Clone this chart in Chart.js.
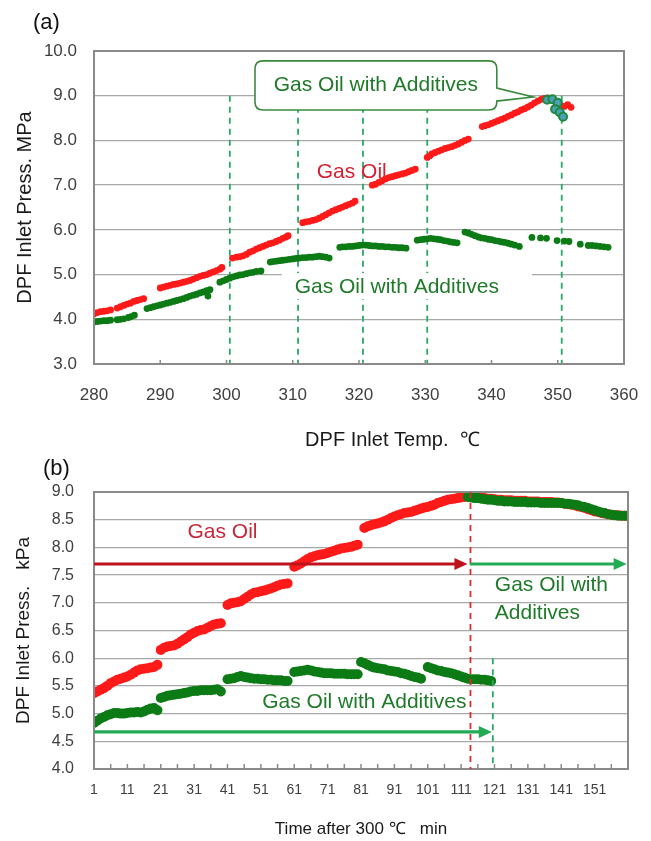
<!DOCTYPE html>
<html>
<head>
<meta charset="utf-8">
<script src="https://cdn.jsdelivr.net/npm/chart.js@4.4.1/dist/chart.umd.min.js"></script>
<style>
  body { margin: 0; background: #fff; }
  #page { position: relative; width: 651px; height: 841px; font-family: 'Liberation Sans', Arial, sans-serif; }
  canvas { position: absolute; left: 0; }
  .tag { position: absolute; font-size: 22px; line-height: 26px; color: #111; }
</style>
</head>
<body>
<div id="page">
  <canvas id="chartA" style="top:0" width="651" height="455"></canvas>
  <canvas id="chartB" style="top:455px" width="651" height="386"></canvas>
  <div class="tag" style="left:33px; top:9px;">(a)</div>
  <div class="tag" style="left:43px; top:455px;">(b)</div>
</div>
<script>
/* Two panels: (a) DPF inlet pressure vs inlet temperature,
   (b) DPF inlet pressure vs time after 300 C */

// ---- (a) data: [temperature degC, pressure MPa]
const aGasOil = [
  [280.0,4.12],[280.5,4.15],[281.0,4.17],[281.5,4.18],[282.0,4.19],[282.5,4.21],
  [283.5,4.25],[284.0,4.28],[284.5,4.31],[285.0,4.34],[285.5,4.36],
  [286.0,4.40],[286.5,4.42],[287.0,4.44],[287.5,4.46],
  [290.0,4.70],[290.5,4.72],[291.0,4.74],[291.5,4.76],[292.0,4.78],[292.5,4.79],[293.0,4.81],[293.5,4.83],
  [294.0,4.85],[294.5,4.87],[295.0,4.90],[295.5,4.93],[296.0,4.96],[296.5,4.98],[297.0,5.00],[297.5,5.03],
  [298.0,5.06],[298.5,5.09],[299.0,5.12],[299.3,5.16],
  [300.9,5.37],[301.5,5.39],[302.0,5.40],[302.5,5.42],[303.0,5.45],[303.5,5.50],[304.0,5.53],[304.5,5.57],
  [305.0,5.60],[305.5,5.63],[306.0,5.66],[306.5,5.69],[307.0,5.71],[307.5,5.74],[308.0,5.77],[308.5,5.81],
  [309.0,5.84],[309.3,5.87],
  [311.5,6.16],[312.0,6.18],[312.5,6.19],[313.0,6.21],[313.5,6.23],[314.0,6.26],[314.5,6.30],[315.0,6.34],
  [315.5,6.38],[316.0,6.42],[316.5,6.45],[317.0,6.48],[317.5,6.51],[318.0,6.54],[318.5,6.57],[319.0,6.60],[319.4,6.64],
  [322.0,7.00],[322.5,7.02],[323.0,7.06],[323.5,7.10],[324.0,7.14],[324.5,7.17],[325.0,7.19],[325.5,7.21],
  [326.0,7.23],[326.5,7.25],[327.0,7.27],[327.5,7.30],[328.0,7.33],[328.5,7.36],
  [330.3,7.62],[330.7,7.66],[331.0,7.70],[331.5,7.73],[332.0,7.76],[332.5,7.79],[333.0,7.82],[333.5,7.84],
  [334.0,7.86],[334.5,7.89],[335.0,7.92],[335.5,7.96],[336.0,8.00],[336.5,8.03],
  [338.6,8.31],[339.0,8.33],[339.5,8.35],[340.0,8.38],[340.5,8.41],[341.0,8.44],[341.5,8.47],[342.0,8.50],
  [342.5,8.54],[343.0,8.57],[343.5,8.61],[344.0,8.64],[344.5,8.68],[345.0,8.71],[345.5,8.75],[346.0,8.79],
  [346.5,8.84],[347.0,8.88],[347.5,8.92],[348.0,8.94],
  [348.5,8.95],[349.0,8.93],[349.5,8.89],[350.0,8.84],[350.5,8.78],[351.0,8.76],[351.5,8.80],[352.0,8.74]
];
const aAdditive = [
  [280.0,3.94],[280.5,3.95],[281.0,3.96],[281.5,3.97],[282.0,3.97],[282.5,3.98],
  [283.5,3.99],[284.0,4.00],[284.5,4.01],[285.2,4.04],[285.6,4.06],[286.1,4.09],
  [288.0,4.24],[288.5,4.26],[289.0,4.28],[289.5,4.30],[290.0,4.32],[290.5,4.34],[291.0,4.36],[291.5,4.38],
  [292.0,4.40],[292.5,4.42],[293.0,4.44],[293.5,4.46],[294.0,4.49],[294.5,4.52],[295.0,4.54],[295.5,4.56],
  [296.0,4.59],[296.5,4.61],[297.0,4.64],[297.2,4.52],[297.5,4.66],
  [299.0,4.83],[299.5,4.86],[300.0,4.89],[300.5,4.92],[301.0,4.95],[301.5,4.97],[302.0,4.99],[302.5,5.00],
  [303.0,5.02],[303.5,5.04],[304.0,5.05],[304.5,5.07],[305.2,5.08],
  [306.6,5.28],[307.0,5.29],[307.5,5.30],[308.0,5.31],[308.5,5.32],[309.0,5.33],[309.5,5.34],[310.0,5.35],
  [310.5,5.36],[311.0,5.37],[311.5,5.38],[312.0,5.38],[312.5,5.39],[313.0,5.39],[313.5,5.40],[314.0,5.41],
  [314.5,5.40],[315.0,5.39],[315.5,5.37],
  [317.1,5.61],[317.5,5.62],[318.0,5.62],[318.5,5.63],[319.0,5.63],[319.5,5.64],[320.0,5.65],[320.5,5.66],
  [321.0,5.66],[321.5,5.65],[322.0,5.64],[322.5,5.64],[323.0,5.63],[323.5,5.63],[324.0,5.62],[324.5,5.62],
  [325.0,5.61],[325.5,5.61],[326.0,5.60],[326.5,5.60],[327.1,5.59],
  [328.8,5.77],[329.3,5.78],[329.8,5.79],[330.3,5.80],[330.8,5.81],[331.3,5.80],[331.8,5.79],[332.3,5.78],
  [332.8,5.76],[333.3,5.75],[333.8,5.73],[334.3,5.72],[334.8,5.71],
  [336.0,5.95],[336.5,5.93],[337.0,5.90],[337.5,5.87],[338.0,5.84],[338.5,5.82],[339.0,5.81],[339.5,5.79],
  [340.0,5.78],[340.5,5.76],[341.0,5.75],[341.5,5.73],[342.0,5.72],[342.5,5.70],[343.0,5.68],[343.5,5.66],[344.2,5.63],
  [346.1,5.83],[347.4,5.82],[348.3,5.81],
  [349.9,5.76],[351.0,5.75],[351.7,5.74],
  [353.4,5.68],[354.6,5.65],[355.2,5.65],[355.8,5.64],[356.4,5.63],[357.0,5.62],[357.6,5.61]
];
// additive run started from the gas oil end point
const aAdditiveSwitch = [[348.4,8.91],[349.2,8.92],[350.0,8.84],[349.6,8.70],[350.3,8.63],[350.8,8.53]];
const aMarkTemps = [300.5, 310.8, 320.6, 330.3, 350.6];   // green dashed verticals
const aTempTicks = [280, 290, 300, 310, 320, 330, 340, 350, 360];

// ---- (b) data: pressure kPa per minute, first value = minute 1, null = no reading
const bGasOil = [
  5.37,5.40,5.43,5.46,5.50,5.55,5.58,5.61,5.63,5.65,5.67,5.70,5.74,5.78,5.80,5.81,5.82,5.83,5.84,5.88,
  6.15,6.19,6.21,6.22,6.23,6.26,6.30,6.34,6.38,6.43,6.46,6.49,6.51,6.52,6.55,6.58,6.61,6.62,6.63,
  null,
  6.96,6.99,7.00,7.01,7.03,7.07,7.11,7.15,7.18,7.19,7.21,7.22,7.24,7.26,7.28,7.31,7.33,7.34,7.35,
  null,
  7.65,7.68,7.71,7.75,7.79,7.82,7.84,7.86,7.87,7.88,7.90,7.92,7.94,7.96,7.98,7.99,8.00,8.01,8.03,8.05,
  null,
  8.35,8.38,8.40,8.42,8.43,8.45,8.47,8.50,8.53,8.56,8.58,8.60,8.62,8.63,8.64,8.66,8.68,8.70,8.72,8.73,
  8.75,8.77,8.80,8.82,8.84,8.86,8.87,8.88,8.89,8.90,8.91,8.92,
  8.92,8.91,8.91,8.90,8.89,8.88,8.88,8.87,8.86,8.86,8.85,8.85,8.85,8.84,8.84,8.84,8.84,8.83,8.83,8.83,
  8.83,8.82,8.82,8.82,8.82,8.81,8.81,8.80,8.79,8.78,8.77,8.76,8.74,8.73,8.71,8.69,8.67,8.65,8.64,8.62,
  8.61,8.60,8.59,8.58,8.58,8.57,8.57,8.57
];
const bAdditive = [
  4.83,4.87,4.91,4.94,4.97,4.99,5.01,5.01,5.00,5.00,5.01,5.02,5.02,5.03,5.02,5.04,5.07,5.09,5.10,5.06,
  5.28,5.30,5.32,5.33,5.34,5.35,5.36,5.37,5.38,5.40,5.41,5.41,5.42,5.42,5.42,5.42,5.43,5.44,5.40,
  null,
  5.62,5.63,5.64,5.66,5.68,5.66,5.65,5.64,5.63,5.63,5.62,5.62,5.61,5.61,5.60,5.60,5.60,5.59,5.59,
  null,
  5.75,5.76,5.77,5.78,5.79,5.78,5.76,5.75,5.74,5.73,5.73,5.73,5.72,5.72,5.72,5.72,5.71,5.71,5.71,5.71,
  5.93,5.91,5.88,5.85,5.83,5.82,5.81,5.80,5.78,5.77,5.76,5.75,5.73,5.72,5.70,5.68,5.66,5.65,5.63,
  null,
  5.84,5.82,5.80,5.78,5.77,5.75,5.74,5.73,5.71,5.69,5.67,5.65,5.63,5.62,5.62,5.62,5.61,5.61,5.60,5.59
];
const bSwitchMinute = 113;   // first minute of bAdditiveAfterSwitch
const bAdditiveAfterSwitch = [
  8.91,8.90,8.89,8.89,8.88,8.87,8.86,8.86,8.85,8.84,8.84,8.83,8.83,8.83,8.82,8.82,8.82,8.82,8.81,8.81,
  8.81,8.81,8.80,8.80,8.80,8.80,8.80,8.80,8.80,8.79,8.79,8.78,8.77,8.76,8.74,8.73,8.71,8.69,8.67,8.65,
  8.63,8.62,8.60,8.59,8.58,8.57,8.57,8.57,8.57
];
const bTimeTicks = [1, 11, 21, 31, 41, 51, 61, 71, 81, 91, 101, 111, 121, 131, 141, 151];

const RED = '#ff1a1a';
const GREEN = '#0d7b15';
const GRID = '#a8a8a8';
const FONT = "'Liberation Sans', Arial, sans-serif";

Chart.defaults.font.family = FONT;
Chart.defaults.color = '#404040';

const pairsXY = pairs => pairs.map(([x, y]) => ({ x, y }));
const minutesXY = (values, first) => values.map((y, i) => ({ x: first + i, y }));

// ---- drawing helpers for the decorations (all positions go through the scales)
function frame(chart) {
  const { ctx, chartArea: a } = chart;
  ctx.save();
  ctx.strokeStyle = '#8a8a8a';
  ctx.lineWidth = 2;
  ctx.strokeRect(a.left, a.top, a.right - a.left, a.bottom - a.top);
  ctx.restore();
}

function innerTicks(chart, values, len) {
  const { ctx, chartArea: a } = chart;
  ctx.save();
  ctx.strokeStyle = '#8a8a8a';
  ctx.lineWidth = 1.5;
  ctx.beginPath();
  values.forEach(v => {
    const p = chart.scales.x.getPixelForValue(v);
    ctx.moveTo(p, a.bottom);
    ctx.lineTo(p, a.bottom - len);
  });
  ctx.stroke();
  ctx.restore();
}

function vDash(chart, x, yTop, yBottom, color) {
  const { ctx } = chart;
  const px = chart.scales.x.getPixelForValue(x);
  ctx.save();
  ctx.strokeStyle = color;
  ctx.lineWidth = 1.8;
  ctx.setLineDash([6, 5]);
  ctx.beginPath();
  ctx.moveTo(px, chart.scales.y.getPixelForValue(yTop));
  ctx.lineTo(px, chart.scales.y.getPixelForValue(yBottom));
  ctx.stroke();
  ctx.restore();
}

function arrow(chart, x0, x1, y, color) {
  const { ctx } = chart;
  const a = chart.scales.x.getPixelForValue(x0);
  const b = chart.scales.x.getPixelForValue(x1);
  const py = chart.scales.y.getPixelForValue(y);
  ctx.save();
  ctx.strokeStyle = color;
  ctx.fillStyle = color;
  ctx.lineWidth = 3.2;
  ctx.beginPath();
  ctx.moveTo(a, py);
  ctx.lineTo(b - 10, py);
  ctx.stroke();
  ctx.beginPath();
  ctx.moveTo(b, py);
  ctx.lineTo(b - 13, py - 6);
  ctx.lineTo(b - 13, py + 6);
  ctx.closePath();
  ctx.fill();
  ctx.restore();
}

function textAt(chart, text, x, y, color, align, bg) {
  const { ctx } = chart;
  const px = chart.scales.x.getPixelForValue(x);
  const py = chart.scales.y.getPixelForValue(y);
  ctx.save();
  ctx.font = '21px ' + FONT;
  ctx.textAlign = align || 'center';
  ctx.textBaseline = 'middle';
  if (bg) {
    const w = ctx.measureText(text).width;
    const left = align === 'left' ? px : px - w / 2;
    ctx.fillStyle = bg;
    ctx.fillRect(left - 13, py - 14, w + 46, 26);
  }
  ctx.fillStyle = color;
  ctx.fillText(text, px, py);
  ctx.restore();
}

// callout box with a pointer towards the switch point in (a)
const aCalloutBox = { left: 304.3, right: 340.8, top: 9.78, bottom: 8.68, pointerTop: 9.17, pointerBottom: 8.88 };
const aCalloutTip = [346.3, 8.97];

function callout(chart) {
  const { ctx } = chart;
  const X = chart.scales.x, Y = chart.scales.y;
  const l = X.getPixelForValue(aCalloutBox.left), r = X.getPixelForValue(aCalloutBox.right);
  const t = Y.getPixelForValue(aCalloutBox.top), b = Y.getPixelForValue(aCalloutBox.bottom);
  const p1 = Y.getPixelForValue(aCalloutBox.pointerTop), p2 = Y.getPixelForValue(aCalloutBox.pointerBottom);
  const tx = X.getPixelForValue(aCalloutTip[0]), ty = Y.getPixelForValue(aCalloutTip[1]);
  const rad = 8;
  ctx.save();
  ctx.beginPath();
  ctx.moveTo(l + rad, t);
  ctx.lineTo(r - rad, t);
  ctx.quadraticCurveTo(r, t, r, t + rad);
  ctx.lineTo(r, p1);
  ctx.lineTo(tx, ty);
  ctx.lineTo(r, p2);
  ctx.lineTo(r, b - rad);
  ctx.quadraticCurveTo(r, b, r - rad, b);
  ctx.lineTo(l + rad, b);
  ctx.quadraticCurveTo(l, b, l, b - rad);
  ctx.lineTo(l, t + rad);
  ctx.quadraticCurveTo(l, t, l + rad, t);
  ctx.closePath();
  ctx.fillStyle = '#fff';
  ctx.fill();
  ctx.strokeStyle = '#3a8a3e';
  ctx.lineWidth = 1.6;
  ctx.stroke();
  ctx.restore();
  textAt(chart, 'Gas Oil with Additives', (aCalloutBox.left + aCalloutBox.right) / 2,
    (aCalloutBox.top + aCalloutBox.bottom) / 2, '#1f7a2a');
}

const panelA = {
  id: 'panelA',
  beforeDatasetsDraw(chart) {
    aMarkTemps.forEach(t => vDash(chart, t, 9.0, 3.0, '#2aa866'));
    textAt(chart, 'Gas Oil with Additives', 325.7, 4.72, '#1f7a2a', 'center', '#fff');
    textAt(chart, 'Gas Oil', 318.9, 7.30, '#d42030');
    callout(chart);
  },
  afterDatasetsDraw(chart) {
    frame(chart);
    innerTicks(chart, aTempTicks, 4);
  }
};

const panelB = {
  id: 'panelB',
  afterDatasetsDraw(chart) {
    frame(chart);
    const minor = [];
    for (let m = 1; m <= 161; m += 5) minor.push(m);
    innerTicks(chart, minor, 5);
    vDash(chart, 113.8, 9.0, 4.0, '#d42e2e');
    vDash(chart, 120.5, 6.0, 4.0, '#2aa866');
    arrow(chart, 1, 112.9, 7.70, '#c0121c');
    arrow(chart, 113.6, 160.6, 7.70, '#22aa55');
    arrow(chart, 1, 120.2, 4.67, '#22aa55');
    textAt(chart, 'Gas Oil', 39.5, 8.28, '#c8283a');
    textAt(chart, 'Gas Oil with Additives', 82, 5.21, '#1f7a2a');
    textAt(chart, 'Gas Oil with', 121.1, 7.32, '#1f7a2a', 'left');
    textAt(chart, 'Additives', 121.1, 6.82, '#1f7a2a', 'left');
  }
};

const titleFont = size => ({ family: FONT, size });

// Panel (a)
new Chart(document.getElementById('chartA'), {
  type: 'scatter',
  data: {
    datasets: [
      { label: 'Gas Oil with Additives (switch)', data: pairsXY(aAdditiveSwitch), pointRadius: 4,
        pointBackgroundColor: '#4b9fb8', pointBorderColor: '#1f8a3e', pointBorderWidth: 2 },
      { label: 'Gas Oil', data: pairsXY(aGasOil), pointRadius: 3.4,
        pointBackgroundColor: RED, pointBorderWidth: 0 },
      { label: 'Gas Oil with Additives', data: pairsXY(aAdditive), pointRadius: 3.4,
        pointBackgroundColor: GREEN, pointBorderWidth: 0 }
    ]
  },
  options: {
    responsive: false,
    animation: false,
    layout: { padding: { top: 51, right: 27, left: 0, bottom: 0 } },
    plugins: { legend: { display: false }, tooltip: { enabled: false } },
    scales: {
      x: {
        type: 'linear', min: 280, max: 360,
        grid: { display: false, drawTicks: false },
        border: { display: false },
        ticks: { stepSize: 10, padding: 21, maxRotation: 0, font: { size: 17 } },
        title: { display: true, text: '            DPF Inlet Temp.  ℃', color: '#1a1a1a',
                 font: titleFont(20), padding: { top: 0, bottom: 3 } },
        // the tick padding would otherwise be added to the "360" overflow and shrink the plot
        afterFit: scale => { scale.height = 91; scale.paddingLeft = 0; scale.paddingRight = 0; }
      },
      y: {
        min: 3, max: 10,
        grid: { color: GRID, lineWidth: 1.3, drawTicks: false },
        border: { display: false },
        ticks: { stepSize: 1, padding: 17, font: { size: 17 }, callback: v => v.toFixed(1) },
        title: { display: true, text: 'DPF Inlet Press. MPa', color: '#1a1a1a',
                 font: titleFont(20), padding: { top: 13, bottom: 0 } },
        afterFit: scale => { scale.width = 94; }
      }
    }
  },
  plugins: [panelA]
});

// Panel (b)
new Chart(document.getElementById('chartB'), {
  type: 'scatter',
  data: {
    datasets: [
      { label: 'Gas Oil with Additives (after switch)', data: minutesXY(bAdditiveAfterSwitch, bSwitchMinute),
        pointRadius: 5, pointBackgroundColor: GREEN, pointBorderWidth: 0 },
      { label: 'Gas Oil with Additives', data: minutesXY(bAdditive, 1),
        pointRadius: 5, pointBackgroundColor: GREEN, pointBorderWidth: 0 },
      { label: 'Gas Oil', data: minutesXY(bGasOil, 1),
        pointRadius: 5, pointBackgroundColor: RED, pointBorderWidth: 0 }
    ]
  },
  options: {
    responsive: false,
    animation: false,
    layout: { padding: { top: 37, right: 23, left: 0, bottom: 0 } },
    plugins: { legend: { display: false }, tooltip: { enabled: false } },
    scales: {
      x: {
        type: 'linear', min: 1, max: 161,
        grid: { display: false, drawTicks: false },
        border: { display: false },
        afterBuildTicks: axis => { axis.ticks = bTimeTicks.map(value => ({ value })); },
        ticks: { padding: 13, maxRotation: 0, autoSkip: false, font: { size: 14 } },
        title: { display: true, text: 'Time after 300 ℃   min', color: '#1a1a1a',
                 font: titleFont(17), padding: { top: 0, bottom: 1 } },
        afterFit: scale => { scale.height = 72; }
      },
      y: {
        min: 4, max: 9,
        grid: { color: GRID, lineWidth: 1.3, drawTicks: false },
        border: { display: false },
        ticks: { stepSize: 0.5, padding: 20, font: { size: 16 }, callback: v => v.toFixed(1) },
        title: { display: true, text: 'DPF Inlet Press.   kPa', color: '#1a1a1a',
                 font: titleFont(19), padding: { top: 12, bottom: 0 } },
        afterFit: scale => { scale.width = 94; }
      }
    }
  },
  plugins: [panelB]
});
</script>
</body>
</html>
